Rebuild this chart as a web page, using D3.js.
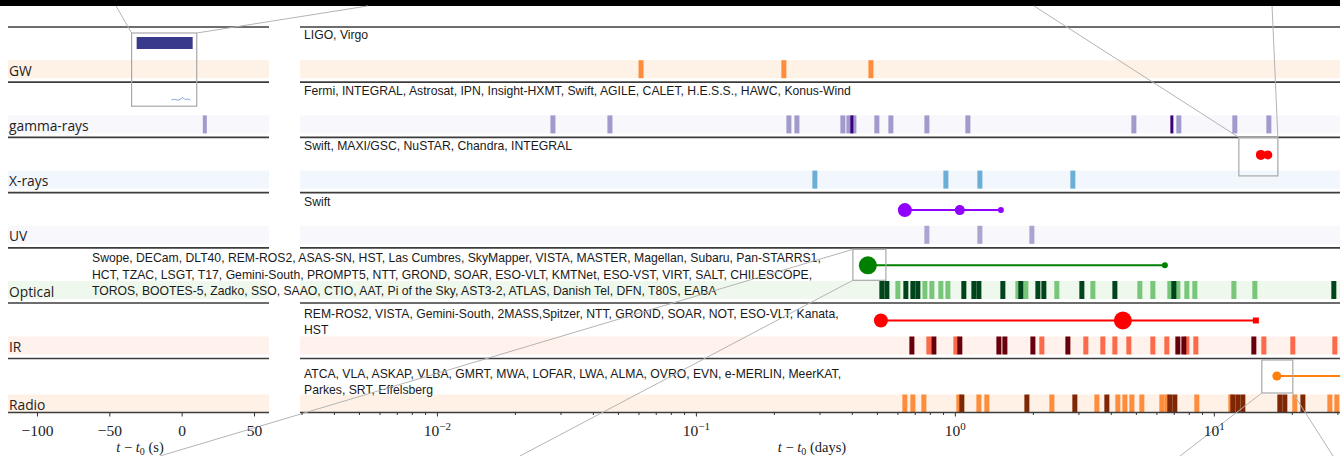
<!DOCTYPE html>
<html><head><meta charset="utf-8">
<script src="https://cdn.jsdelivr.net/npm/d3@7"></script>
<style>body{margin:0;background:#fff;overflow:hidden}</style>
</head><body>
<svg id="c" width="1340" height="456"></svg>
<script>
// ---------------- DATA ----------------
const rowNames = ["GW","gamma-rays","X-rays","UV","Optical","IR","Radio"];
const instruments = [
 ["LIGO, Virgo"],
 ["Fermi, INTEGRAL, Astrosat, IPN, Insight-HXMT, Swift, AGILE, CALET, H.E.S.S., HAWC, Konus-Wind"],
 ["Swift, MAXI/GSC, NuSTAR, Chandra, INTEGRAL"],
 ["Swift"],
 ["Swope, DECam, DLT40, REM-ROS2, ASAS-SN, HST, Las Cumbres, SkyMapper, VISTA, MASTER, Magellan, Subaru, Pan-STARRS1,",
  "HCT, TZAC, LSGT, T17, Gemini-South, PROMPT5, NTT, GROND, SOAR, ESO-VLT, KMTNet, ESO-VST, VIRT, SALT, CHILESCOPE,",
  "TOROS, BOOTES-5, Zadko, SSO, SAAO, CTIO, AAT, Pi of the Sky, AST3-2, ATLAS, Danish Tel, DFN, T80S, EABA"],
 ["REM-ROS2, VISTA, Gemini-South, 2MASS,Spitzer, NTT, GROND, SOAR, NOT, ESO-VLT, Kanata,","HST"],
 ["ATCA, VLA, ASKAP, VLBA, GMRT, MWA, LOFAR, LWA, ALMA, OVRO, EVN, e-MERLIN, MeerKAT,","Parkes, SRT, Effelsberg"]
];
// observation times (days after t0), light = regular, dark = highlighted
const gwLight = [0.0614, 0.2186, 0.474];
const gammaLight = [0.02805,0.04656,0.2286,0.2455,0.3694,0.3897,0.4074,0.4997,0.5661,0.7797,1.1225,4.911,7.325,12.05,16.31];
const gammaDark = [0.4002, 6.885];
const xrayLight = [0.288, 0.9232, 1.249, 2.855];
const uvLight = [0.7797, 1.249, 1.983];
const opticalLight = [0.6025,0.766,0.815,0.8829,0.9397,1.751,1.88,2.476,3.411,5.179,5.814,6.762,7.261,7.866,8.445,11.95,14.40];
const opticalDark = [0.5225,0.5463,0.6468,0.6884,0.7197,1.083,1.184,1.238,1.532,1.798,2.092,2.206,3.093,4.148,7.008,29.06];
const irLight = [0.7935,1.009,2.167,3.204,3.727,4.148,4.697,5.814,6.584,7.866,8.521,15.60,20.18,29.32];
const irDark = [0.6823,0.8297,1.045,1.479,1.56,2.001,2.731,7.261,7.659,14.27];
const radioLight = [0.641,0.6884,0.759,1.036,1.238,1.329,2.369,3.534,4.259,4.533,4.825,5.272,6.299,6.584,8.597,11.63,20.54,28.05,29.85];
const radioDark = [1.064,1.897,2.906,3.863,6.762,7.069,11.84,12.38,12.94,17.98,18.80,22.07];
// left panel (seconds)
const gammaLeftSec = [16];
const gwSignalSec = [-31.1, 7.6];
const gammaCurveSec = [-6, -4, -2, 0, 1, 2, 3, 4, 6];
const gammaCurveVal = [0.1, 0.3, 0.0, 0.4, 0.9, 0.5, 0.2, 0.4, 0.1];
// discovery / follow-up timelines (days)
const xrayLine = [15.19, 16.16];
const uvLine = [0.641, 1.045, 1.505];
const opticalLine = [0.4614, 6.47];
const irLine = [0.518, 4.454, 14.53];
const radioLine = [17.51, 100];
// zoom boxes (time range)
const leftBoxSec = [-34.6, 10.4];
const xrayBox = [12.49, 17.67];
const opticalBox = [0.4038, 0.5416];
const radioBox = [15.32, 20.18];
const leftTicks = [-100, -50, 0, 50];
const rightMajor = [0.01, 0.1, 1, 10];

// ---------------- LAYOUT / STYLE ----------------
const W = 1340, H = 456;
const seps = [27, 82.2, 137.4, 192.6, 247.8, 303, 358.5, 412.5];
const bandTop = i => i < 6 ? seps[i+1] - 22 : seps[7] - 18;
const bandH = 18;
const lineY = i => seps[i] + 17.5;
const textBase = [[12],[13],[13],[13.5],[14.5,31,47.5],[15,31],[19.5,35.5]];
const textX = [304,304,304,304,92,304,304];
const rowStyle = [
 {band:"#fef2e6", light:"#fd8d3c", dark:"#a63603"},
 {band:"#f7f7fc", light:"#a09bcc", dark:"#3f007d"},
 {band:"#f2f7fd", light:"#6baed6", dark:"#08519c"},
 {band:"#f8f7fc", light:"#a9a4d0", dark:"#3f007d"},
 {band:"#eff8ec", light:"#78c679", dark:"#00441b"},
 {band:"#fff1ec", light:"#fb6a4a", dark:"#67000d"},
 {band:"#fff1e5", light:"#fd8d3c", dark:"#7f2704"}
];

const svg = d3.select("#c");
const xL = d3.scaleLinear().domain([-120, 60]).range([8, 268.5]);
const xR = d3.scaleLog().domain([0.00296, 30.7]).range([300, 1340]);
const PL = [8, 269], PR = [300, 1340];

// top dark strip
svg.append("rect").attr("x",0).attr("y",0).attr("width",W).attr("height",6).attr("fill","#000");

// bands
rowNames.forEach((n,i)=>{
  [PL,PR].forEach(p=>{
    svg.append("rect").attr("x",p[0]).attr("width",p[1]-p[0])
      .attr("y",bandTop(i)).attr("height",bandH).attr("fill",rowStyle[i].band);
  });
});

// bars
function bars(data, row, kind, w){
  svg.append("g").selectAll("rect").data(data).join("rect")
    .attr("x",d=>xR(d)-w/2).attr("width",w)
    .attr("y",bandTop(row)).attr("height",bandH)
    .attr("fill",rowStyle[row][kind]);
}
bars(gwLight,0,"light",5);
bars(gammaLight,1,"light",5); bars(gammaDark,1,"dark",3);
bars(xrayLight,2,"light",5);
bars(uvLight,3,"light",5);
bars(opticalLight,4,"light",5); bars(opticalDark,4,"dark",5);
bars(irLight,5,"light",5); bars(irDark,5,"dark",5);
bars(radioLight,6,"light",5); bars(radioDark,6,"dark",5);
// left panel gamma bar
svg.append("g").selectAll("rect").data(gammaLeftSec).join("rect")
  .attr("x",d=>xL(d)-2).attr("width",4).attr("y",bandTop(1)).attr("height",bandH)
  .attr("fill",rowStyle[1].light);

// separators
seps.forEach(y=>{
  [PL,PR].forEach(p=>{
    svg.append("line").attr("x1",p[0]).attr("x2",p[1]).attr("y1",y).attr("y2",y)
      .attr("stroke","#3c3c3c").attr("stroke-width",1.7);
  });
});

// row labels
rowNames.forEach((n,i)=>{
  svg.append("text").attr("x",9).attr("y",bandTop(i)+bandH-2.5)
    .attr("font-family","Open Sans, sans-serif").attr("font-size",13.8).attr("fill","#222").text(n);
});

// instrument texts
instruments.forEach((lines,i)=>{
  lines.forEach((t,k)=>{
    svg.append("text").attr("x",textX[i]).attr("y",seps[i]+textBase[i][k])
      .attr("font-family","Liberation Sans, Arial, sans-serif").attr("font-size",12.2)
      .attr("fill","#1a1a1a").text(t);
  });
});

// timelines
function timeline(data,row,color,radii,lastSquare){
  const g = svg.append("g");
  const y = lineY(row);
  g.append("line").attr("x1",xR(data[0])).attr("x2",xR(data[data.length-1]))
    .attr("y1",y).attr("y2",y).attr("stroke",color).attr("stroke-width",2);
  data.forEach((d,k)=>{
    if(lastSquare && k===data.length-1){
      g.append("rect").attr("x",xR(d)-3).attr("y",y-3).attr("width",6).attr("height",6).attr("fill",color);
    } else if(radii[k]>0){
      g.append("circle").attr("cx",xR(d)).attr("cy",y).attr("r",radii[k]).attr("fill",color);
    }
  });
}
timeline(xrayLine,2,"#ff0000",[5,4.5],false);
timeline(uvLine,3,"#8f00ff",[7,5,3],false);
timeline(opticalLine,4,"#008000",[9,3],false);
timeline(irLine,5,"#ff0000",[7,9,3],true);
timeline(radioLine,6,"#ff7f0e",[4.5,0],false);

// zoom boxes
const boxStroke = "#a8a8a8";
function box(x0,x1,y0,y1){
  svg.append("rect").attr("x",x0).attr("y",y0).attr("width",x1-x0).attr("height",y1-y0)
    .attr("fill","none").attr("stroke",boxStroke).attr("stroke-width",1.2);
  return {x0,x1,y0,y1};
}
const bL = box(xL(leftBoxSec[0]), xL(leftBoxSec[1]), seps[0]+6, seps[1]+24);
svg.append("rect").attr("x",xL(gwSignalSec[0])).attr("width",xL(gwSignalSec[1])-xL(gwSignalSec[0]))
  .attr("y",seps[0]+10).attr("height",12).attr("fill","#3a3a8c");
const gy = d3.scaleLinear().domain([0,1]).range([seps[1]+18, seps[1]+15]);
const gx = d3.scaleLinear().domain([-6,6]).range([xL(-7), xL(6)]);
svg.append("path").attr("d", d3.line().x((d,k)=>gx(gammaCurveSec[k])).y(d=>gy(d))(gammaCurveVal))
  .attr("fill","none").attr("stroke","#6a8fd0").attr("stroke-width",0.8);
const bX = box(xR(xrayBox[0]), xR(xrayBox[1]), seps[2], seps[2]+38.5);
const bO = box(xR(opticalBox[0]), xR(opticalBox[1]), seps[4]+1.5, seps[4]+32.5);
const bR = box(xR(radioBox[0]), xR(radioBox[1]), seps[6]+1.5, seps[6]+34.5);

// connector lines toward external figures (targets in figure fractions)
const connectors = [
  [bL.x0,bL.y0, 0.0866,0.013],[bL.x1,bL.y0, 0.2746,0.013],
  [bX.x0,bX.y0, 0.7716,0.013],[bX.x1,bX.y0, 0.9493,0.013],
  [bO.x0,bO.y0, 0.1194,1.0],[bO.x0,bO.y1, 0.3880,1.0],
  [bR.x0,bR.y1, 0.8806,1.0],[bR.x1,bR.y1, 0.9948,1.0]
];
connectors.forEach(c=>{
  svg.append("line").attr("x1",c[0]).attr("y1",c[1]).attr("x2",c[2]*W).attr("y2",c[3]*H)
    .attr("stroke","#b4b4b4").attr("stroke-width",1);
});

// axes
const axY = seps[7];
const fmtNum = d => d<0 ? "\u2212"+(-d) : String(d);
const gLeft = svg.append("g").attr("transform",`translate(0,${axY})`)
  .call(d3.axisBottom(xL).tickValues(leftTicks).tickSize(4).tickFormat(fmtNum));
gLeft.select(".domain").remove();
const minor = xR.ticks().filter(d=>!rightMajor.some(m=>Math.abs(m-d)/m<1e-6));
const gMinor = svg.append("g").attr("transform",`translate(0,${axY})`)
  .call(d3.axisBottom(xR).tickValues(minor).tickSize(2.5).tickFormat(""));
gMinor.select(".domain").remove();
const gRight = svg.append("g").attr("transform",`translate(0,${axY})`)
  .call(d3.axisBottom(xR).tickValues(rightMajor).tickSize(4).tickFormat(""));
gRight.select(".domain").remove();
gRight.selectAll(".tick text").remove();
gRight.selectAll(".tick").append("text").attr("y",23).attr("text-anchor","middle")
  .attr("fill","#222").attr("font-family","Liberation Serif, serif").attr("font-size",15.5)
  .each(function(d){
    const e = Math.round(Math.log10(d));
    const t = d3.select(this);
    t.append("tspan").text("10");
    t.append("tspan").attr("dy",-6).attr("font-size",11).text(fmtNum(e));
  });
[gLeft,gMinor,gRight].forEach(g=>{
  g.selectAll(".tick line").attr("stroke","#333");
});
gLeft.selectAll(".tick text").attr("font-family","Liberation Serif, serif").attr("font-size",15.5)
  .attr("fill","#222").attr("y",12);

function axisLabel(x, unit){
  const t = svg.append("text").attr("x",x).attr("y",452).attr("text-anchor","middle")
    .attr("font-family","Liberation Serif, serif").attr("font-size",14.5).attr("fill","#222");
  t.append("tspan").attr("font-style","italic").text("t");
  t.append("tspan").text(" \u2212 ");
  t.append("tspan").attr("font-style","italic").text("t");
  t.append("tspan").attr("dy",3).attr("font-size",10).text("0");
  t.append("tspan").attr("dy",-3).text(" (" + unit + ")");
}
axisLabel(140,"s");
axisLabel(812,"days");
</script>
</body></html>
